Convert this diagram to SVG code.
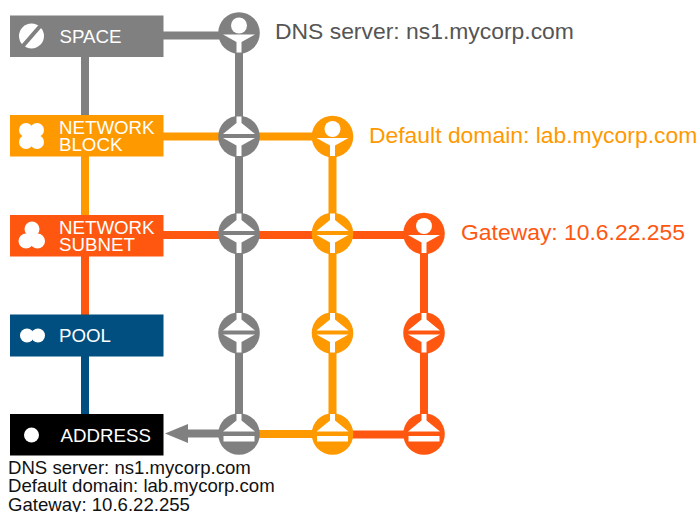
<svg xmlns="http://www.w3.org/2000/svg" width="697" height="512" viewBox="0 0 697 512">
<style>
text{font-family:"Liberation Sans",Arial,sans-serif}
.l{font-size:18.7px;fill:#fff}
.c{font-size:18.6px;fill:#111}
.t{font-size:22.9px}
.w{fill:#fff}
.n{r:20.8px}
.ln{fill:none;stroke-width:8}
.g{stroke:#808080}.o{stroke:#ff9900}.r{stroke:#ff5710}.b{stroke:#004f80}
</style>
<defs>
<g id="up"><path class="w" d="M-2.5-20V-13.5L-16-2.500H16L2.500-13.5V-20Z"/></g>
<g id="dn"><path class="w" d="M-16 1.500H16L2.500 9V19.500H-2.500V9Z"/></g>
<g id="src"><circle class="w" cy="-7.500" r="8"/><use href="#dn"/></g>
<g id="thru"><use href="#up"/><use href="#dn"/></g>
<g id="end"><use href="#up"/><rect class="w" x="-15.500" y="2" width="31" height="5.500"/></g>
</defs>
<g id="connectors">
<path class="ln g" d="M85 57V115M163 35.500H239M239 35V434"/>
<path class="ln o" d="M85 156V215M163 136.500H332M332.500 136V434M239 434H332"/>
<path class="ln r" d="M85 256V315M163 235H424M424 234V434M332 434.500H424"/>
<path class="ln b" d="M85 356V414"/>
<path class="ln g" d="M188 433.500H239"/>
<path fill="#808080" d="M165 433.500L188 424V443Z"/>
</g>
<g id="space"><rect x="10" y="15.500" width="153.500" height="41.500" fill="#808080"/>
<circle class="w" cx="31.500" cy="36" r="12.500"/><path d="M22 47L42 24" stroke="#808080" stroke-width="4"/>
<text class="l" x="59.500" y="42.500">SPACE</text></g>
<g id="block"><rect x="10" y="115" width="153.500" height="41.500" fill="#ff9900"/>
<g class="w"><circle cx="26" cy="130" r="7"/><circle cx="37" cy="130" r="7"/><circle cx="26" cy="142" r="7"/><circle cx="37" cy="142" r="7"/><rect x="24" y="128" width="15" height="16"/></g>
<text class="l" x="59" y="133.500">NETWORK</text><text class="l" x="59" y="150.500">BLOCK</text></g>
<g id="subnet"><rect x="10" y="215" width="153.500" height="41.500" fill="#ff5710"/>
<g class="w"><circle cx="32" cy="229" r="7.500"/><circle cx="26" cy="241" r="7.500"/><circle cx="37.500" cy="241" r="7.500"/></g>
<text class="l" x="59" y="233.500">NETWORK</text><text class="l" x="59" y="250.500">SUBNET</text></g>
<g id="pool"><rect x="10" y="314.500" width="153.500" height="42" fill="#004f80"/>
<g class="w"><circle cx="27" cy="335.500" r="7"/><circle cx="38" cy="335.500" r="7"/></g>
<text class="l" x="59" y="342">POOL</text></g>
<g id="address"><rect x="10" y="414" width="153.500" height="41.500" fill="#000"/>
<circle class="w" cx="31.500" cy="435" r="7.500"/>
<text class="l" x="60.500" y="441.500">ADDRESS</text></g>
<g id="n-g1"><circle cx="239" cy="33" r="20.800" fill="#808080"/><use href="#src" x="239" y="33"/></g>
<g id="n-g2"><circle cx="239" cy="136.500" r="20.800" fill="#808080"/><use href="#thru" x="239" y="136.500"/></g>
<g id="n-g3"><circle cx="239" cy="233.500" r="20.800" fill="#808080"/><use href="#thru" x="239" y="233.500"/></g>
<g id="n-g4"><circle cx="239" cy="333" r="20.800" fill="#808080"/><use href="#thru" x="239" y="333"/></g>
<g id="n-g5"><circle cx="239" cy="434" r="20.800" fill="#808080"/><use href="#end" x="239" y="434"/></g>
<g id="n-o1"><circle cx="332.500" cy="136.500" r="20.800" fill="#ff9900"/><use href="#src" x="332.500" y="136.500"/></g>
<g id="n-o2"><circle cx="332.500" cy="233.500" r="20.800" fill="#ff9900"/><use href="#thru" x="332.500" y="233.500"/></g>
<g id="n-o3"><circle cx="332.500" cy="333" r="20.800" fill="#ff9900"/><use href="#thru" x="332.500" y="333"/></g>
<g id="n-o4"><circle cx="332.500" cy="434" r="20.800" fill="#ff9900"/><use href="#end" x="332.500" y="434"/></g>
<g id="n-r1"><circle cx="424" cy="233.500" r="20.800" fill="#ff5710"/><use href="#src" x="424" y="233.500"/></g>
<g id="n-r2"><circle cx="424" cy="333" r="20.800" fill="#ff5710"/><use href="#thru" x="424" y="333"/></g>
<g id="n-r3"><circle cx="424" cy="434" r="20.800" fill="#ff5710"/><use href="#end" x="424" y="434"/></g>
<text class="t" x="275" y="39" fill="#555">DNS server: ns1.mycorp.com</text>
<text class="t" x="369" y="143" fill="#ff9900">Default domain: lab.mycorp.com</text>
<text class="t" x="461" y="240" fill="#ff5710">Gateway: 10.6.22.255</text>
<text class="c" x="8" y="474">DNS server: ns1.mycorp.com</text>
<text class="c" x="8" y="492">Default domain: lab.mycorp.com</text>
<text class="c" x="8" y="510.500">Gateway: 10.6.22.255</text>
</svg>
